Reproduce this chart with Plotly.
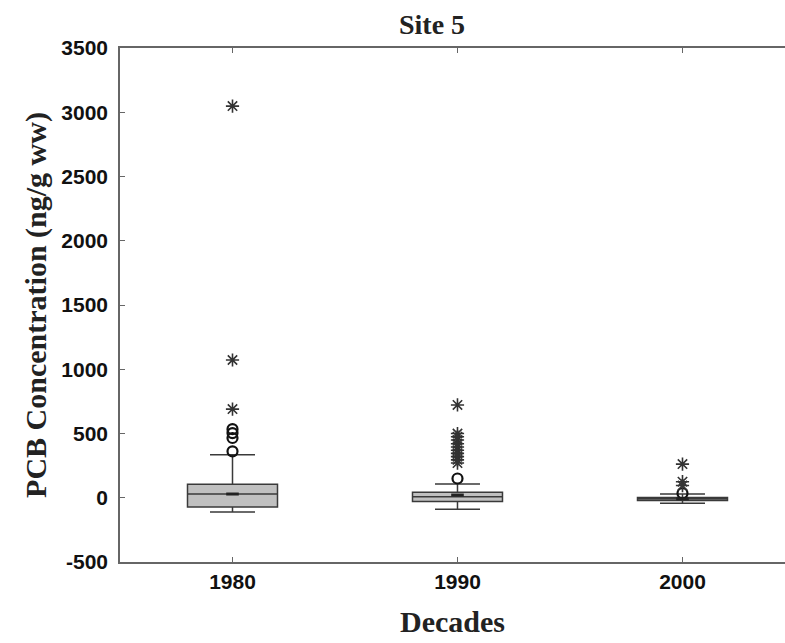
import plotly.graph_objects as go

decades = ["1980", "1990", "2000"]
q1 = [-72, -30, -22]
median = [29, 8, -8]
q3 = [106, 42, 2]
lower_fence = [-111, -89, -43]
upper_fence = [334, 107, 29]
means = [29, 21, -8]
mild_outliers = [[361, 465, 503, 534], [150], [35]]
extreme_outliers = [[690, 1072, 3048],
                    [722, 500, 475, 450, 420, 395, 370, 345, 320, 295, 270],
                    [262, 125, 95]]
y_ticks = [-500, 0, 500, 1000, 1500, 2000, 2500, 3000, 3500]

fig = go.Figure()
for i, d in enumerate(decades):
    fig.add_trace(go.Box(
        x=[i], q1=[q1[i]], median=[median[i]], q3=[q3[i]],
        lowerfence=[lower_fence[i]], upperfence=[upper_fence[i]],
        width=0.4, whiskerwidth=0.5, boxpoints=False,
        fillcolor="#c0c0c0", line=dict(color="#3a3a3a", width=1.5),
        showlegend=False, name=d))
    fig.add_trace(go.Scatter(
        x=[i] * len(mild_outliers[i]), y=mild_outliers[i], mode="markers",
        marker=dict(symbol="circle-open", size=10, color="#111111",
                    line=dict(width=2.2)), showlegend=False))
    fig.add_trace(go.Scatter(
        x=[i] * len(extreme_outliers[i]), y=extreme_outliers[i], mode="markers",
        marker=dict(symbol="asterisk-open", size=11, color="#333333",
                    line=dict(width=1.6)), showlegend=False))
    fig.add_trace(go.Scatter(
        x=[i], y=[means[i]], mode="markers",
        marker=dict(symbol="line-ew-open", size=9, color="#222222",
                    line=dict(width=3)), showlegend=False))

fig.update_layout(
    width=785, height=643,
    margin=dict(l=120, r=0, t=48, b=81),
    plot_bgcolor="white", paper_bgcolor="white",
    annotations=[dict(text="<b>Site 5</b>", x=0.469, y=1.045, xref="paper", yref="paper",
                      showarrow=False, xanchor="center", yanchor="middle",
                      font=dict(family="Liberation Serif", size=28, color="#222"))],
)
fig.update_xaxes(
    range=[-0.5, 2.4556], tickvals=[0, 1, 2], ticktext=["<b>%s</b>" % d for d in decades],
    showline=True, linecolor="#666", linewidth=1.5, mirror="ticks",
    ticks="inside", ticklen=5, tickcolor="#666", showgrid=False, zeroline=False,
    tickfont=dict(family="Liberation Sans", size=21, color="#111", weight="bold"),
    title=dict(text="<b>Decades</b>", standoff=19,
               font=dict(family="Liberation Serif", size=30, color="#222")))
fig.update_yaxes(
    range=[-500, 3500], tickvals=y_ticks, ticktext=["<b>%d</b>" % v for v in y_ticks],
    showline=True, linecolor="#666", linewidth=1.5,
    ticks="inside", ticklen=5, tickcolor="#666", showgrid=False, zeroline=False,
    tickfont=dict(family="Liberation Sans", size=21, color="#111", weight="bold"),
    ticklabelstandoff=6,
    title=dict(text="<b>PCB Concentration (ng/g ww)</b>", standoff=6,
               font=dict(family="Liberation Serif", size=30, color="#222")))

fig.write_html("out.html")
